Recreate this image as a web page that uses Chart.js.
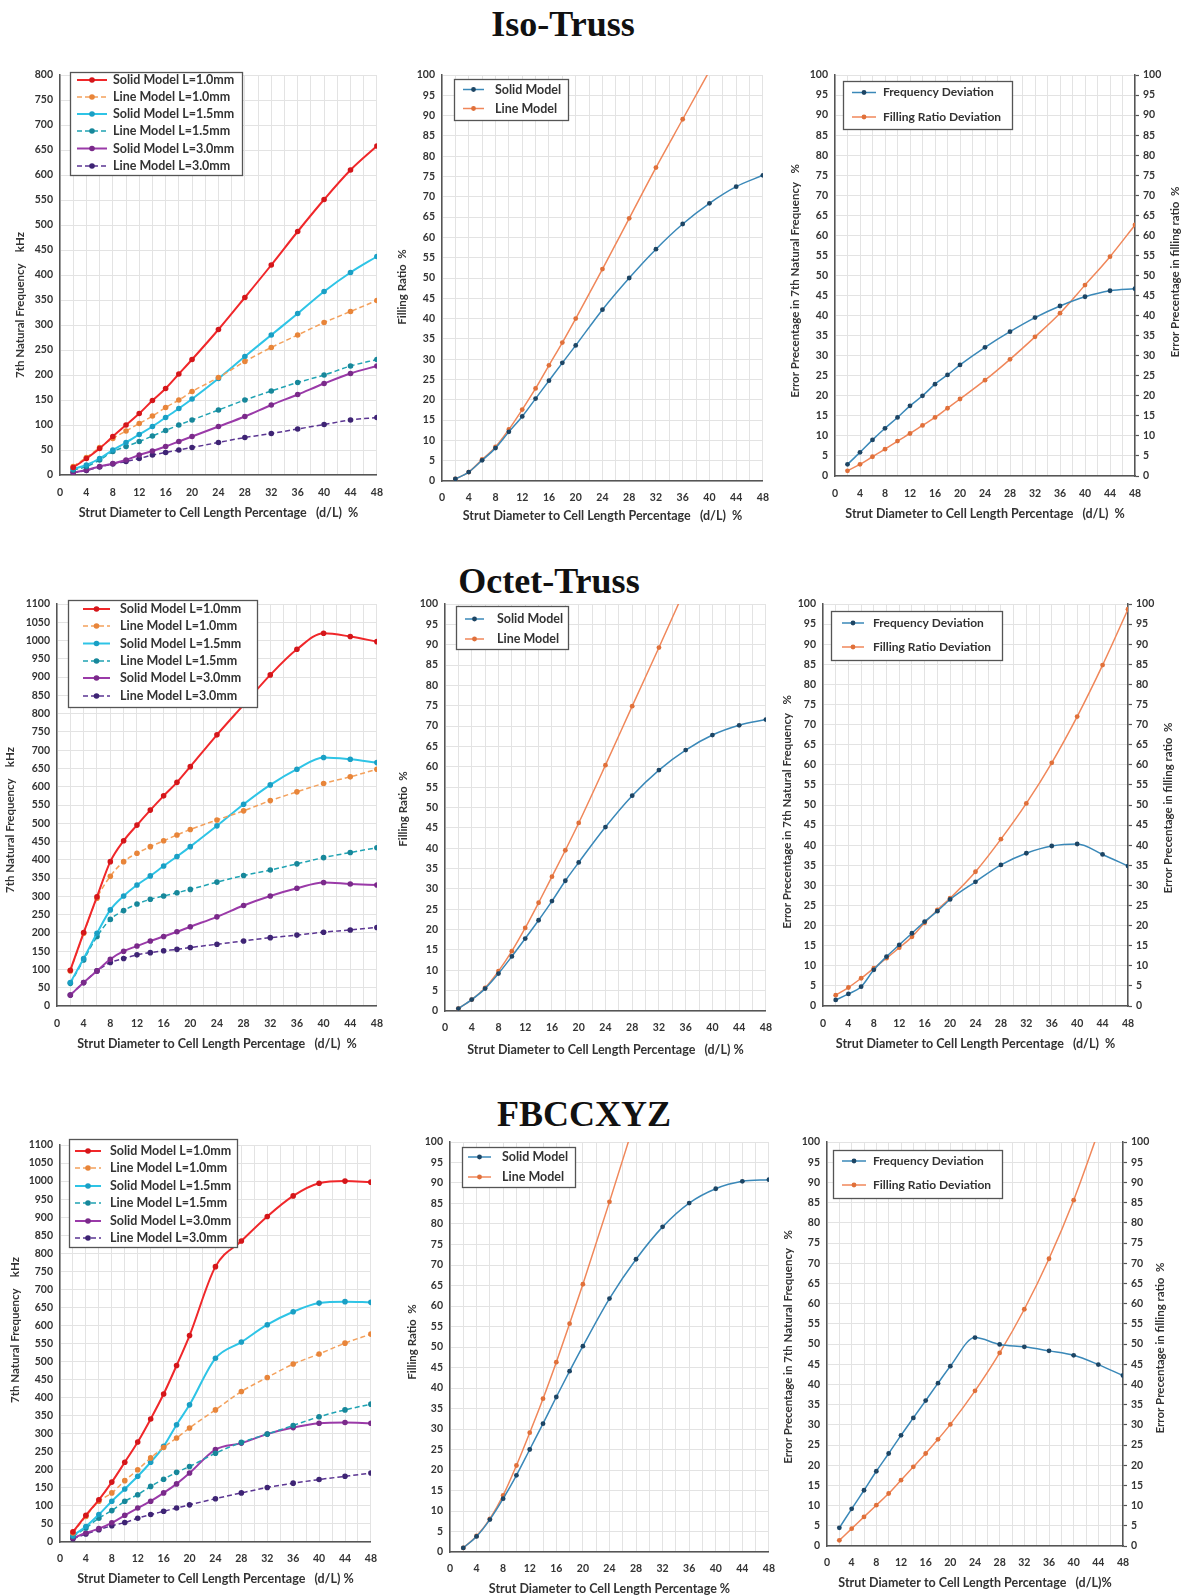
<!DOCTYPE html>
<html><head><meta charset="utf-8">
<script src="https://cdn.jsdelivr.net/npm/chart.js@4.4.1/dist/chart.umd.min.js"></script>
<style>
html,body{margin:0;padding:0;background:#fff;}
body{width:1182px;height:1595px;position:relative;overflow:hidden;}
.title{position:absolute;transform:translateX(-50%);font-family:"Liberation Serif","DejaVu Serif",serif;font-weight:bold;font-size:36px;line-height:1;color:#111;white-space:nowrap;}
canvas{position:absolute;}
</style></head><body>
<div class="title" style="left:563px;top:6px">Iso-Truss</div>
<div class="title" style="left:549px;top:563px">Octet-Truss</div>
<div class="title" style="left:584px;top:1096px">FBCCXYZ</div>
<script>
// ---------- data ----------
const X = [2,4,6,8,10,12,14,16,18,20,24,28,32,36,40,44,48];
const xTickLabels = [0,4,8,12,16,20,24,28,32,36,40,44,48];

const isoFreqSolid10 = [15,33,53,77,100,123,149,173,202,231,291,355,420,487,551,610,658];
const isoFreqLine10  = [17,35,55,73,88,103,118,135,150,167,195,227,255,280,305,327,349];
const isoFreqSolid15 = [12,20,33,50,65,81,97,115,133,152,193,237,280,323,367,405,437];
const isoFreqLine15  = [10,17,30,47,57,67,78,89,100,110,130,150,168,185,200,218,231];
const isoFreqSolid30 = [5,10,17,23,30,40,48,57,67,77,97,117,140,161,183,203,218];
const isoFreqLine30  = [5,9,16,22,27,33,40,45,50,55,65,75,83,92,101,110,115];

const isoFillSolid = [0.5,2.2,5.1,8.1,12.1,15.9,20.3,24.7,29.1,33.4,42.2,50.0,57.1,63.3,68.4,72.5,75.3];
const isoFillLine  = [0.5,2.2,5.3,8.4,12.7,17.6,22.8,28.5,34.1,40.0,52.2,64.7,77.2,89.1,101];

const isoErrFreq = [2.9,5.9,9.0,11.9,14.6,17.5,20.0,22.9,25.2,27.7,32.1,36.0,39.5,42.4,44.7,46.2,46.7];
const isoErrFill = [1.3,2.9,4.8,6.7,8.7,10.6,12.6,14.6,16.9,19.2,23.9,29.1,34.7,40.6,47.6,54.7,62.6];

const octFreqSolid10 = [98,201,299,395,452,495,536,575,612,655,742,824,906,976,1020,1011,997];
const octFreqLine10  = [96,199,295,355,395,418,436,452,468,483,509,534,562,586,609,627,648];
const octFreqSolid15 = [64,130,199,263,301,331,356,383,409,436,493,552,605,648,680,675,666];
const octFreqLine15  = [62,126,190,237,261,279,292,301,310,319,339,357,372,389,406,420,433];
const octFreqSolid30 = [30,64,96,128,150,164,178,190,203,217,244,275,301,322,338,334,331];
const octFreqLine30  = [30,64,96,119,130,140,146,151,155,160,169,178,187,194,202,208,215];

const octFillSolid = [0.6,2.8,5.5,9.2,13.4,17.8,22.3,27.0,32.0,36.5,45.2,52.9,59.2,64.1,67.8,70.2,71.6];
const octFillLine  = [0.6,2.8,5.7,9.8,14.7,20.4,26.6,33.0,39.5,46.2,60.4,74.9,89.3,104];

const octErrFreq = [1.5,3.0,4.8,9.0,12.3,15.2,18.1,21.0,23.6,26.5,30.9,35.1,38.0,39.8,40.3,37.7,34.8];
const octErrFill = [2.7,4.6,6.9,9.4,11.9,14.5,17.2,20.7,23.9,26.8,33.4,41.5,50.4,60.5,72.0,84.8,98.7];

const fbFreqSolid10 = [28,74,117,166,221,277,341,410,489,572,763,834,902,959,994,1000,997];
const fbFreqLine10  = [25,71,113,136,170,200,233,262,288,316,366,417,456,493,521,551,576];
const fbFreqSolid15 = [18,43,76,113,147,182,221,265,325,380,509,554,602,638,662,666,664];
const fbFreqLine15  = [16,39,66,87,113,131,154,174,193,209,246,276,299,323,347,366,382];
const fbFreqSolid30 = [11,25,37,53,74,94,113,136,161,191,256,274,299,317,329,331,329];
const fbFreqLine30  = [9,22,34,45,54,66,76,85,94,103,120,136,151,163,173,182,191];

const fbFillSolid = [1.0,3.8,7.9,13.0,18.7,25.0,31.3,37.8,44.1,50.2,61.8,71.4,79.3,85.1,88.6,90.4,90.8];
const fbFillLine  = [1.0,3.9,8.1,13.8,21.1,29.1,37.4,46.3,55.7,65.3,85.4,106];

const fbErrFreq = [4.5,9.2,13.8,18.5,22.9,27.4,31.7,36.0,40.3,44.5,51.6,49.9,49.3,48.3,47.2,44.9,42.2];
const fbErrFill = [1.4,4.3,7.2,10.1,13.0,16.3,19.6,22.9,26.4,30.1,38.4,47.8,58.6,71.1,85.6,102.5];

const freqLabels = ['Solid Model L=1.0mm','Line Model L=1.0mm','Solid Model L=1.5mm','Line Model L=1.5mm','Solid Model L=3.0mm','Line Model L=3.0mm'];
const fillLabels = ['Solid Model','Line Model'];
const errLabels = ['Frequency Deviation','Filling Ratio Deviation'];

const xTitleFull = 'Strut Diameter to Cell Length Percentage   (d/L)  %';
const freqTitle = '7th Natural Frequency    kHz';
const fillTitle = 'Filling Ratio  %';
const errLeftTitle = 'Error Precentage in 7th Natural Frequency   %';
const errRightTitle = 'Error Precentage in filling ratio  %';

// ---------- styles ----------
const FAM = 'Lato, "Liberation Sans", sans-serif';
Chart.defaults.font.family = FAM;
Chart.defaults.font.size = 10.5;
Chart.defaults.font.weight = 'bold';
Chart.defaults.color = '#333';
Chart.defaults.animation = false;

const pts = arr => arr.map((v,i)=>({x:X[i], y:v}));

const freqStyles = [
  {c:'#f0272a', p:'#d4161a', w:2, dash:[]},
  {c:'#f4a15c', p:'#e8853a', w:1.5, dash:[5,3]},
  {c:'#2ec4e6', p:'#1a9fc4', w:2, dash:[]},
  {c:'#1fa3b3', p:'#17879a', w:1.5, dash:[5,3]},
  {c:'#9a3aa8', p:'#7a2a8a', w:2, dash:[]},
  {c:'#5b3592', p:'#3e2474', w:1.5, dash:[5,3]}
];
const pairStyles = [
  {c:'#3a88b8', p:'#1d4564', w:1.5, dash:[]},
  {c:'#f0875a', p:'#e0703a', w:1.5, dash:[]}
];

function mkSets(labels, arrays, styles, radius, axisIds){
  return arrays.map((a,i)=>({
    label: labels[i], data: pts(a), yAxisID: axisIds ? axisIds[i] : 'y',
    borderColor: styles[i].c, backgroundColor: styles[i].c,
    pointBackgroundColor: styles[i].p, pointBorderColor: styles[i].p,
    borderWidth: styles[i].w, borderDash: styles[i].dash,
    pointRadius: radius, pointBorderWidth: 0,
    cubicInterpolationMode: 'monotone', fill: false
  }));
}

// legend plugin drawn inside plot (boxed)
const boxLegend = {
  id: 'boxLegend',
  afterDatasetsDraw(chart, args, o){
    if(!o || !o.box) return;
    const ctx = chart.ctx, ox = o.ox, oy = o.oy;
    const [x1,y1,x2,y2] = o.box;
    ctx.save();
    ctx.fillStyle = '#fff';
    ctx.fillRect(x1-ox, y1-oy, x2-x1, y2-y1);
    ctx.strokeStyle = '#555'; ctx.lineWidth = 1.3;
    ctx.strokeRect(x1-ox+0.5, y1-oy+0.5, x2-x1, y2-y1);
    chart.data.datasets.forEach((ds,i)=>{
      const y = o.rows[i]-oy;
      ctx.strokeStyle = ds.borderColor; ctx.lineWidth = ds.borderWidth;
      ctx.setLineDash(ds.borderDash || []);
      ctx.beginPath(); ctx.moveTo(o.s1-ox, y); ctx.lineTo(o.s2-ox, y); ctx.stroke();
      ctx.setLineDash([]);
      ctx.fillStyle = ds.pointBackgroundColor;
      ctx.beginPath(); ctx.arc((o.s1+o.s2)/2-ox, y, ds.pointRadius, 0, Math.PI*2); ctx.fill();
      ctx.fillStyle = '#333'; ctx.font = o.font; ctx.textBaseline = 'middle'; ctx.textAlign = 'left';
      ctx.fillText(ds.label, o.tx-ox, y);
    });
    ctx.restore();
  }
};
// vertical axis titles at exact positions
const sideTitles = {
  id: 'sideTitles',
  afterDraw(chart, args, o){
    if(!o || !o.items) return;
    const ctx = chart.ctx;
    ctx.save();
    o.items.forEach(it=>{
      ctx.save();
      ctx.translate(it.x - o.ox, it.y - o.oy);
      ctx.rotate(-Math.PI/2);
      ctx.font = 'bold 11.5px ' + FAM;
      ctx.fillStyle = '#333'; ctx.textAlign = 'center'; ctx.textBaseline = 'middle';
      ctx.fillText(it.text, 0, 0);
      ctx.restore();
    });
    ctx.restore();
  }
};

function addChart(s){
  const cl = s.yTitleX - 12;
  const ct = s.T - 14;
  const rW = s.right ? 32 : 0;
  const padR = s.right ? Math.max(8, (s.rTitleX + 10) - (s.R + rW)) : 14;
  const cw = Math.round(s.R + rW + padR - cl);
  const ch = Math.round(s.B + s.xTitleOff + 11.5 - ct);
  const yW = s.L - cl;
  const xH = ch - (s.B - ct);
  const cv = document.createElement('canvas');
  cv.width = cw; cv.height = ch;
  cv.style.left = cl + 'px'; cv.style.top = ct + 'px';
  cv.style.width = cw + 'px'; cv.style.height = ch + 'px';
  document.body.appendChild(cv);

  const gridColor = '#e3e3e3';
  const scales = {
    x: {
      type: 'linear', min: 0, max: 48,
      afterFit: sc => { sc.height = xH; },
      ticks: { stepSize: 2, autoSkip: false, maxRotation: 0, padding: s.xTickPad,
               callback: v => xTickLabels.includes(v) ? String(v) : '' },
      grid: { color: gridColor, drawTicks: false },
      border: { color: '#555', width: 1.5 },
      title: { display: true, text: s.xTitle, font: {size: 12.5, weight: 'bold'}, color: '#333', padding: {top: 0, bottom: 4} }
    },
    y: {
      type: 'linear', position: 'left', min: 0, max: s.yMax,
      afterFit: sc => { sc.width = yW; },
      ticks: { stepSize: s.yStep, autoSkip: false, padding: 7, callback: v => String(v) },
      grid: { color: gridColor, drawTicks: false },
      border: { color: '#555', width: 1.5 }
    }
  };
  if (s.right){
    scales.y2 = {
      type: 'linear', position: 'right', min: 0, max: s.yMax,
      afterFit: sc => { sc.width = rW; },
      ticks: { stepSize: s.yStep, autoSkip: false, padding: 4, callback: v => String(v) },
      grid: { drawOnChartArea: false, drawTicks: true, tickLength: 4, tickColor: '#555', tickWidth: 1.2 },
      border: { color: '#555', width: 1.5 }
    };
  }
  const titles = [{text: s.yTitle, x: s.yTitleX, y: s.yTitleY}];
  if (s.right) titles.push({text: s.rTitle, x: s.rTitleX, y: s.rTitleY});

  new Chart(cv, {
    type: 'line',
    data: { datasets: s.datasets },
    options: {
      responsive: false, devicePixelRatio: 1, animation: false,
      layout: { padding: { left: 0, top: s.T - ct, right: padR, bottom: 0 } },
      scales,
      plugins: {
        legend: { display: false }, tooltip: { enabled: false },
        boxLegend: Object.assign({ox: cl, oy: ct}, s.legend),
        sideTitles: { ox: cl, oy: ct, items: titles }
      }
    },
    plugins: [boxLegend, sideTitles]
  });
}

const LF = 'bold 12.5px ' + FAM;
const LFs = 'bold 12px ' + FAM;

// ---------- Row 1: Iso-Truss ----------
addChart({ L:60, T:75, R:380, B:475, yMax:800, yStep:50, yTitle:freqTitle, yTitleX:20, yTitleY:305,
  xTitle:xTitleFull, xTitleOff:37, xTickPad:11,
  datasets: mkSets(freqLabels, [isoFreqSolid10,isoFreqLine10,isoFreqSolid15,isoFreqLine15,isoFreqSolid30,isoFreqLine30], freqStyles, 2.8),
  legend: { box:[70,72,242,175], rows:[80,97,114,131,148.5,166], s1:77, s2:107, tx:113, font:LF } });

addChart({ L:442, T:75, R:765, B:481, yMax:100, yStep:5, yTitle:fillTitle, yTitleX:402, yTitleY:287,
  xTitle:xTitleFull, xTitleOff:34, xTickPad:10,
  datasets: mkSets(fillLabels, [isoFillSolid, isoFillLine], pairStyles, 2.4),
  legend: { box:[454,79,568,120], rows:[89.5,108.5], s1:463, s2:484, tx:495, font:LF } });

addChart({ L:835, T:75, R:1135, B:476, yMax:100, yStep:5, right:true, yTitle:errLeftTitle, yTitleX:795, yTitleY:281,
  rTitle:errRightTitle, rTitleX:1175, rTitleY:272,
  xTitle:xTitleFull, xTitleOff:37, xTickPad:11,
  datasets: mkSets(errLabels, [isoErrFreq, isoErrFill], pairStyles, 2.4, ['y','y2']),
  legend: { box:[843,81,1012,129], rows:[92.5,117], s1:852, s2:876, tx:883, font:LFs } });

// ---------- Row 2: Octet-Truss ----------
addChart({ L:57, T:604, R:380, B:1006, yMax:1100, yStep:50, yTitle:freqTitle, yTitleX:10, yTitleY:820,
  xTitle:xTitleFull, xTitleOff:37, xTickPad:11,
  datasets: mkSets(freqLabels, [octFreqSolid10,octFreqLine10,octFreqSolid15,octFreqLine15,octFreqSolid30,octFreqLine30], freqStyles, 2.8),
  legend: { box:[68,600,257,707], rows:[609,626,643.5,661,678,696], s1:83, s2:110, tx:120, font:LF } });

addChart({ L:445, T:604, R:768, B:1011, yMax:100, yStep:5, yTitle:fillTitle, yTitleX:403, yTitleY:809,
  xTitle:'Strut Diameter to Cell Length Percentage   (d/L) %', xTitleOff:38, xTickPad:10,
  datasets: mkSets(fillLabels, [octFillSolid, octFillLine], pairStyles, 2.4),
  legend: { box:[456,606,568,649], rows:[619,639], s1:465, s2:484, tx:497, font:LF } });

addChart({ L:823, T:604, R:1128, B:1006, yMax:100, yStep:5, right:true, yTitle:errLeftTitle, yTitleX:787, yTitleY:812,
  rTitle:errRightTitle, rTitleX:1168, rTitleY:808,
  xTitle:xTitleFull, xTitleOff:37, xTickPad:11,
  datasets: mkSets(errLabels, [octErrFreq, octErrFill], pairStyles, 2.4, ['y','y2']),
  legend: { box:[831,611,1002,660], rows:[623,647], s1:842, s2:864, tx:873, font:LFs } });

// ---------- Row 3: FBCCXYZ ----------
addChart({ L:60, T:1145, R:373, B:1542, yMax:1100, yStep:50, yTitle:freqTitle, yTitleX:15, yTitleY:1330,
  xTitle:'Strut Diameter to Cell Length Percentage   (d/L) %', xTitleOff:36, xTickPad:10,
  datasets: mkSets(freqLabels, [fbFreqSolid10,fbFreqLine10,fbFreqSolid15,fbFreqLine15,fbFreqSolid30,fbFreqLine30], freqStyles, 2.8),
  legend: { box:[69,1139,237,1247], rows:[1151,1168,1186,1203,1221,1238], s1:75, s2:101, tx:110, font:LF } });

addChart({ L:450, T:1142, R:771, B:1552, yMax:100, yStep:5, yTitle:fillTitle, yTitleX:412, yTitleY:1342,
  xTitle:'Strut Diameter to Cell Length Percentage %', xTitleOff:36, xTickPad:10,
  datasets: mkSets(fillLabels, [fbFillSolid, fbFillLine], pairStyles, 2.4),
  legend: { box:[462,1147,575,1187], rows:[1157,1177], s1:468, s2:491, tx:502, font:LF } });

addChart({ L:827, T:1142, R:1123, B:1546, yMax:100, yStep:5, right:true, yTitle:errLeftTitle, yTitleX:788, yTitleY:1347,
  rTitle:errRightTitle, rTitleX:1160, rTitleY:1348,
  xTitle:'Strut Diameter to Cell Length Percentage   (d/L)%', xTitleOff:36, xTickPad:10,
  datasets: mkSets(errLabels, [fbErrFreq, fbErrFill], pairStyles, 2.4, ['y','y2']),
  legend: { box:[833,1150,1002,1198], rows:[1161,1185], s1:842, s2:866, tx:873, font:LFs } });
</script>
</body></html>
